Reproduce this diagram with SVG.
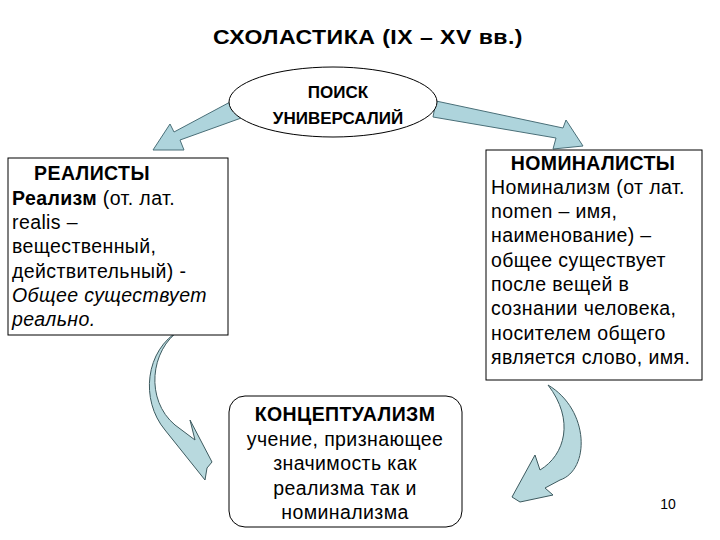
<svg xmlns="http://www.w3.org/2000/svg" width="720" height="540" viewBox="0 0 720 540">
<style>
text{font-family:"Liberation Sans",Arial,sans-serif;font-size:19.5px;letter-spacing:0.4px;fill:#000}
.b{font-weight:bold}
.e{font-size:17px;letter-spacing:0}
.box{fill:#fff;stroke:#000;stroke-width:1}
.arr{fill:#aed4dc;stroke:#4a6f78;stroke-width:1}
.carr{fill:#b8d9de;stroke:#3d5a5f;stroke-width:1}
</style>
<rect width="720" height="540" fill="#fff"/>
<text class="b" x="368" y="44" text-anchor="middle" textLength="310" lengthAdjust="spacingAndGlyphs">СХОЛАСТИКА (IX – XV вв.)</text>
<g id="connectors">
<path class="arr" d="M232,101 L244,117 L180,140 L184,150 L153,150 L170,124 L174,132 Z"/>
<path class="arr" d="M436,101 L433,117 L556,138 L553,149 L583,146 L566,120 L563,128 Z"/>
<path class="carr" d="M180,330 C150,350 145,400 175,425 L195,440 L190,420 L212,462 L207,468 L205,480 L165,430 C140,400 145,350 180,330 Z"/>
<path class="carr" d="M548,385 C590,410 590,470 560,480 L545,488 L553,495 L520,502 L512,497 L535,455 L540,470 C565,455 575,420 548,385 Z"/>
</g>
<g id="search">
<ellipse class="box" cx="333" cy="102" rx="104" ry="35"/>
<text class="b e" x="338" y="98" text-anchor="middle">ПОИСК</text>
<text class="b e" x="338" y="124" text-anchor="middle">УНИВЕРСАЛИЙ</text>
</g>
<g id="realists">
<rect class="box" x="8" y="158" width="220" height="177"/>
<text class="b" x="92" y="180" text-anchor="middle">РЕАЛИСТЫ</text>
<text x="12" y="205"><tspan class="b">Реализм</tspan> (от. лат.</text>
<text x="12" y="229">realis –</text>
<text x="12" y="253">вещественный,</text>
<text x="12" y="278">действительный) -</text>
<text x="12" y="302" font-style="italic">Общее существует</text>
<text x="12" y="326" font-style="italic">реально.</text>
</g>
<g id="nominalists">
<rect class="box" x="486" y="150" width="216" height="230"/>
<text class="b" x="593" y="170" text-anchor="middle">НОМИНАЛИСТЫ</text>
<text x="491" y="194">Номинализм (от лат.</text>
<text x="491" y="218">nomen – имя,</text>
<text x="491" y="242">наименование) –</text>
<text x="491" y="267">общее существует</text>
<text x="491" y="291">после вещей в</text>
<text x="491" y="315">сознании человека,</text>
<text x="491" y="340">носителем общего</text>
<text x="491" y="364">является слово, имя.</text>
</g>
<g id="conceptualism">
<rect class="box" x="229" y="396" width="233" height="131" rx="16"/>
<text class="b" x="345" y="421" text-anchor="middle">КОНЦЕПТУАЛИЗМ</text>
<text x="345" y="446" text-anchor="middle">учение, признающее</text>
<text x="345" y="470" text-anchor="middle">значимость как</text>
<text x="345" y="495" text-anchor="middle">реализма так и</text>
<text x="345" y="519" text-anchor="middle">номинализма</text>
</g>
<text x="668" y="509" text-anchor="middle" style="font-size:14px;letter-spacing:0">10</text>
</svg>
